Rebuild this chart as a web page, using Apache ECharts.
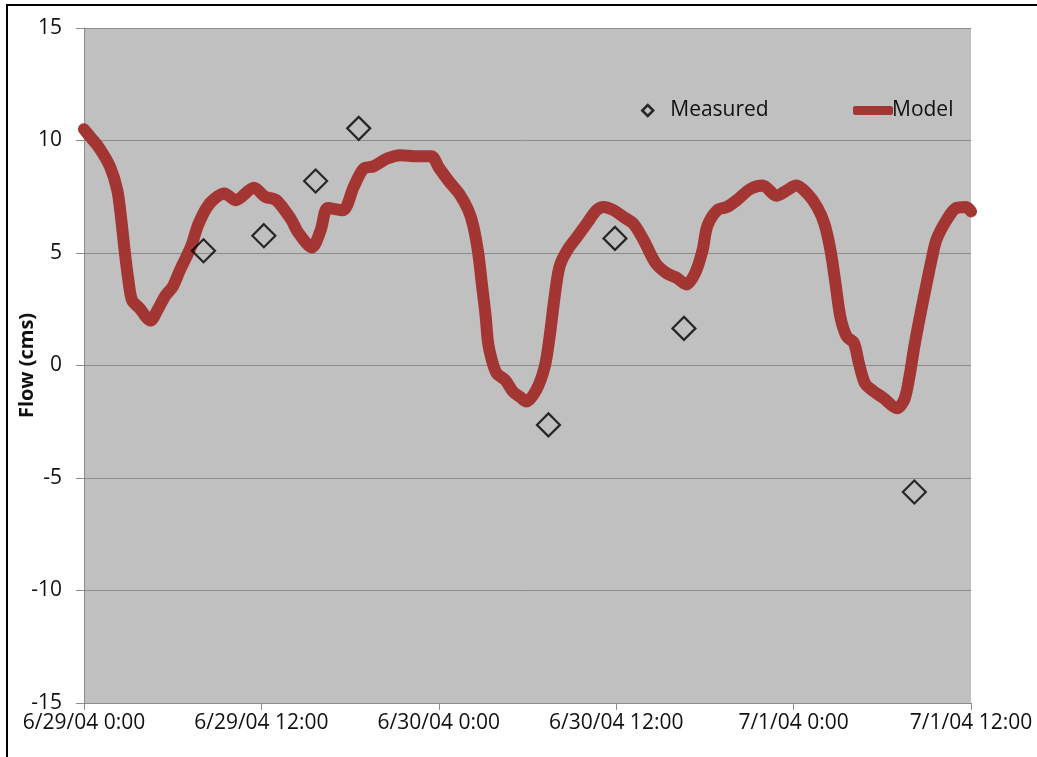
<!DOCTYPE html>
<html>
<head>
<meta charset="utf-8">
<script src="https://cdn.jsdelivr.net/npm/echarts@6/dist/echarts.min.js"></script>
<style>
html,body{margin:0;padding:0;background:#fff;}
#chart{width:1037px;height:757px;}
</style>
</head>
<body>
<div id="chart"></div>
<script>
// ---- data (times as M/D/YY H:MM, values in cms) ----
const modelTimes = [
 '6/29/04 0:00','6/29/04 0:30','6/29/04 1:00','6/29/04 1:45','6/29/04 2:15','6/29/04 2:30','6/29/04 2:45','6/29/04 3:00',
 '6/29/04 3:15','6/29/04 3:45','6/29/04 4:30','6/29/04 5:00','6/29/04 5:30','6/29/04 6:00','6/29/04 6:30','6/29/04 7:15',
 '6/29/04 7:45','6/29/04 8:30','6/29/04 9:30','6/29/04 10:15','6/29/04 11:30','6/29/04 12:15','6/29/04 13:00','6/29/04 14:00',
 '6/29/04 14:30','6/29/04 15:25','6/29/04 16:00','6/29/04 16:30','6/29/04 17:30','6/29/04 18:15','6/29/04 18:55','6/29/04 19:35',
 '6/29/04 20:30','6/29/04 21:25','6/29/04 22:30','6/29/04 23:30','6/30/04 0:00','6/30/04 0:40','6/30/04 1:25','6/30/04 2:00',
 '6/30/04 2:20','6/30/04 2:40','6/30/04 2:55','6/30/04 3:10','6/30/04 3:20','6/30/04 3:35','6/30/04 3:55','6/30/04 4:30',
 '6/30/04 5:00','6/30/04 5:30','6/30/04 5:55','6/30/04 6:35','6/30/04 7:10','6/30/04 7:30','6/30/04 7:50','6/30/04 8:10',
 '6/30/04 8:40','6/30/04 9:20','6/30/04 10:00','6/30/04 10:40','6/30/04 11:10','6/30/04 11:50','6/30/04 12:30','6/30/04 13:10',
 '6/30/04 13:50','6/30/04 14:40','6/30/04 15:25','6/30/04 16:05','6/30/04 16:45','6/30/04 17:20','6/30/04 17:50','6/30/04 18:10',
 '6/30/04 18:50','6/30/04 19:30','6/30/04 20:10','6/30/04 21:05','6/30/04 21:55','6/30/04 22:50','6/30/04 23:35','7/1/04 0:10',
 '7/1/04 0:55','7/1/04 1:35','7/1/04 2:05','7/1/04 2:30','7/1/04 2:50','7/1/04 3:10','7/1/04 3:35','7/1/04 4:05',
 '7/1/04 4:25','7/1/04 4:50','7/1/04 5:25','7/1/04 6:05','7/1/04 7:00','7/1/04 7:30','7/1/04 7:50','7/1/04 8:10',
 '7/1/04 8:35','7/1/04 9:00','7/1/04 9:20','7/1/04 9:40','7/1/04 10:20','7/1/04 11:00','7/1/04 11:40','7/1/04 12:00'
];
const modelValues = [
 10.5,10.1,9.7,8.85,7.8,6.6,5.1,3.8,
 2.9,2.55,2.0,2.5,3.1,3.5,4.25,5.3,
 6.3,7.2,7.65,7.35,7.9,7.5,7.35,6.5,
 5.9,5.25,6.0,7.0,6.9,7.95,8.75,8.85,
 9.2,9.35,9.3,9.3,8.8,8.2,7.6,6.9,
 6.2,5.0,3.6,2.2,1.0,0.25,-0.35,-0.65,
 -1.15,-1.4,-1.6,-1.1,-0.05,1.3,3.05,4.4,
 5.1,5.7,6.3,6.9,7.05,6.9,6.6,6.3,
 5.6,4.55,4.1,3.9,3.6,4.1,5.1,6.2,
 6.9,7.05,7.35,7.85,8.0,7.55,7.8,8.0,
 7.65,7.05,6.3,5.1,3.65,2.15,1.3,1.0,
 0.1,-0.8,-1.15,-1.45,-1.9,-1.5,-0.5,0.85,
 2.3,3.65,4.7,5.6,6.45,7.0,7.05,6.85
];
const measuredTimes = ['6/29/04 8:05','6/29/04 12:10','6/29/04 15:40','6/29/04 18:35','6/30/04 7:25','6/30/04 11:55','6/30/04 16:35','7/1/04 8:10'];
const measuredValues = [5.1,5.77,8.2,10.54,-2.64,5.65,1.65,-5.62];
const yTicks = {min:-15, max:15, step:5};
const xStart = '6/29/04 0:00', xEnd = '7/1/04 12:00', xStepHours = 12;

// ---- helpers ----
function parseT(s){
  const [d,t] = s.split(' ');
  const [m,dd,yy] = d.split('/').map(Number);
  const [h,mi] = t.split(':').map(Number);
  return Date.UTC(2000+yy, m-1, dd, h, mi);
}
function fmtT(v){
  const dt = new Date(v);
  const mm = String(dt.getUTCMinutes()).padStart(2,'0');
  return (dt.getUTCMonth()+1)+'/'+dt.getUTCDate()+'/'+String(dt.getUTCFullYear()%100).padStart(2,'0')+' '+dt.getUTCHours()+':'+mm;
}
const modelData = modelTimes.map((t,i)=>[parseT(t), modelValues[i]]);
const measuredData = measuredTimes.map((t,i)=>[parseT(t), measuredValues[i]]);

const RED = '#a33532';
const AX = '#8c8c8c';
const FONT = 'Open Sans';

const chart = echarts.init(document.getElementById('chart'), null, {renderer:'canvas'});
chart.setOption({
  backgroundColor:'#ffffff',
  animation:false,
  textStyle:{fontFamily:FONT},
  grid:{left:84, right:66, top:28, bottom:54, show:true, backgroundColor:'#c0c0c0', borderWidth:0,
        containLabel:false, outerBoundsMode:'none'},
  legend:[
    {data:[{name:'Measured', icon:'diamond', itemStyle:{color:'rgba(0,0,0,0)', borderColor:'#000', borderWidth:2.5}}],
     left:641, top:100, padding:0, itemWidth:11, itemHeight:11,
     textStyle:{fontFamily:FONT, fontSize:21, color:'#111', padding:[0,0,0,12]}, selectedMode:false},
    {data:[{name:'Model', icon:'roundRect', itemStyle:{color:RED}}], left:853, top:100, padding:0, itemWidth:40, itemHeight:9,
     textStyle:{fontFamily:FONT, fontSize:21, color:'#111', padding:[0,0,0,-6]}, selectedMode:false}
  ],
  xAxis:{
    type:'value', min:parseT(xStart), max:parseT(xEnd), interval:xStepHours*3600*1000,
    axisLine:{show:true, onZero:false, lineStyle:{color:AX, width:1}},
    axisTick:{show:true, length:7, lineStyle:{color:AX}},
    splitLine:{show:false},
    axisLabel:{formatter:fmtT, fontFamily:FONT, fontSize:21, color:'#111', margin:10, showMinLabel:true, showMaxLabel:true}
  },
  yAxis:{
    type:'value', min:yTicks.min, max:yTicks.max, interval:yTicks.step,
    name:'Flow (cms)', nameLocation:'middle', nameGap:47, nameRotate:90, nameMoveOverlap:false,
    nameTextStyle:{fontFamily:FONT, fontSize:20, fontWeight:'bold', color:'#111'},
    axisLine:{show:true, lineStyle:{color:AX, width:1}},
    axisTick:{show:true, length:8, lineStyle:{color:AX}},
    splitLine:{show:true, lineStyle:{color:AX, width:1}},
    axisLabel:{fontFamily:FONT, fontSize:21, color:'#111', margin:22}
  },
  series:[
    {name:'Model', type:'line', data:modelData, showSymbol:false, symbol:'none', smooth:0.3,
     lineStyle:{color:RED, width:12, cap:'round', join:'round'}, itemStyle:{color:RED}, z:2},
    {name:'Measured', type:'scatter', data:measuredData, symbol:'diamond', symbolSize:23,
     itemStyle:{color:'rgba(0,0,0,0)', borderColor:'#000', borderWidth:2.2}, z:3}
  ],
  graphic:[
    {type:'line', shape:{x1:7, y1:4, x2:7, y2:757}, style:{stroke:'#000', lineWidth:2}, silent:true},
    {type:'line', shape:{x1:6, y1:5, x2:1037, y2:5}, style:{stroke:'#000', lineWidth:2}, silent:true}
  ]
});
</script>
</body>
</html>
